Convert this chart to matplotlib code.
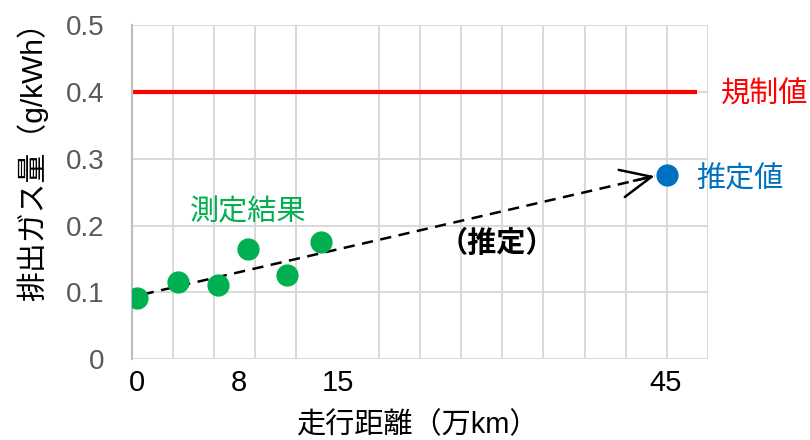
import matplotlib
matplotlib.use('Agg')
import matplotlib.pyplot as plt
from matplotlib.ticker import MultipleLocator

plt.rcParams['font.family'] = ['Liberation Sans', 'Noto Sans CJK JP']

# measured results (axis position along distance, emission g/kWh)
measured_x = [0.4, 3.4, 6.3, 8.5, 11.3, 13.8]
measured_y = [0.091, 0.115, 0.111, 0.165, 0.126, 0.175]

# estimated value at end of life
estimate_x = [39]
estimate_y = [0.275]

# trend line (estimate)
trend_x = [0.8, 38.1]
trend_y = [0.097, 0.274]

# regulation limit
limit_value = 0.4
limit_span = [0, 41.2]

tick_pos = [0.4, 7.8, 15, 38.9]
tick_labels = ['0', '8', '15', '45']

GREEN = '#00b050'
BLUE = '#0070c0'
RED = '#ff0000'

fig = plt.figure(figsize=(8.1, 4.4), dpi=100)
ax = fig.add_axes([0.1627, 0.1834, 0.7114, 0.7598])

ax.set_xlim(0, 42)
ax.set_ylim(0, 0.5)
ax.set_axisbelow(True)

ax.xaxis.set_minor_locator(MultipleLocator(3))
ax.set_xticks(tick_pos, tick_labels)
ax.set_yticks([0, 0.1, 0.2, 0.3, 0.4, 0.5], ['0', '0.1', '0.2', '0.3', '0.4', '0.5'])
ax.grid(axis='x', which='minor', color='#d9d9d9', lw=1.4)
ax.grid(axis='x', which='major', visible=False)
ax.grid(axis='y', which='major', color='#d9d9d9', lw=1.4)
ax.tick_params(which='both', length=0)
ax.tick_params(axis='x', labelsize=21, colors='black', pad=7)
ax.tick_params(axis='y', labelsize=20, labelcolor='#595959', pad=20)
for s in ['top', 'right', 'bottom']:
    ax.spines[s].set_visible(False)
ax.spines['left'].set_color('#bfbfbf')
ax.spines['left'].set_linewidth(1.6)

ax.plot(limit_span, [limit_value] * 2, color=RED, lw=3, solid_capstyle='butt')

ax.plot(trend_x, trend_y, color='black', lw=1.8, linestyle=(0, (4.5, 3)))
ax.annotate('', xy=(trend_x[1], trend_y[1]), xytext=(trend_x[1] - 1.5, trend_y[1] - 0.0069),
            arrowprops=dict(arrowstyle='->, head_length=1.1, head_width=0.5',
                            color='black', lw=1.8, mutation_scale=20,
                            shrinkA=0, shrinkB=0))

ax.plot(measured_x, measured_y, 'o', color=GREEN, ms=15, zorder=3)
ax.plot(estimate_x, estimate_y, 'o', color=BLUE, ms=15, zorder=3)

ax.text(46.1, 0.396, '規制値', color=RED, fontsize=21, ha='center', va='center')
ax.text(44.3, 0.269, '推定値', color=BLUE, fontsize=21, ha='center', va='center')
ax.text(8.47, 0.220, '測定結果', color=GREEN, fontsize=21, ha='center', va='center')
ax.text(26.6, 0.172, '（推定）', color='black', fontsize=21, fontweight='bold',
        ha='center', va='center')

ax.set_xlabel('走行距離（万km）', fontsize=21)
ax.xaxis.label.set_va('center')
ax.xaxis.set_label_coords(0.497, -0.197)
ax.set_ylabel('排出ガス量（g/kWh）', fontsize=21.5)
ax.yaxis.label.set_va('center')
ax.yaxis.set_label_coords(-0.173, 0.615)

fig.savefig('out.png', dpi=100)
